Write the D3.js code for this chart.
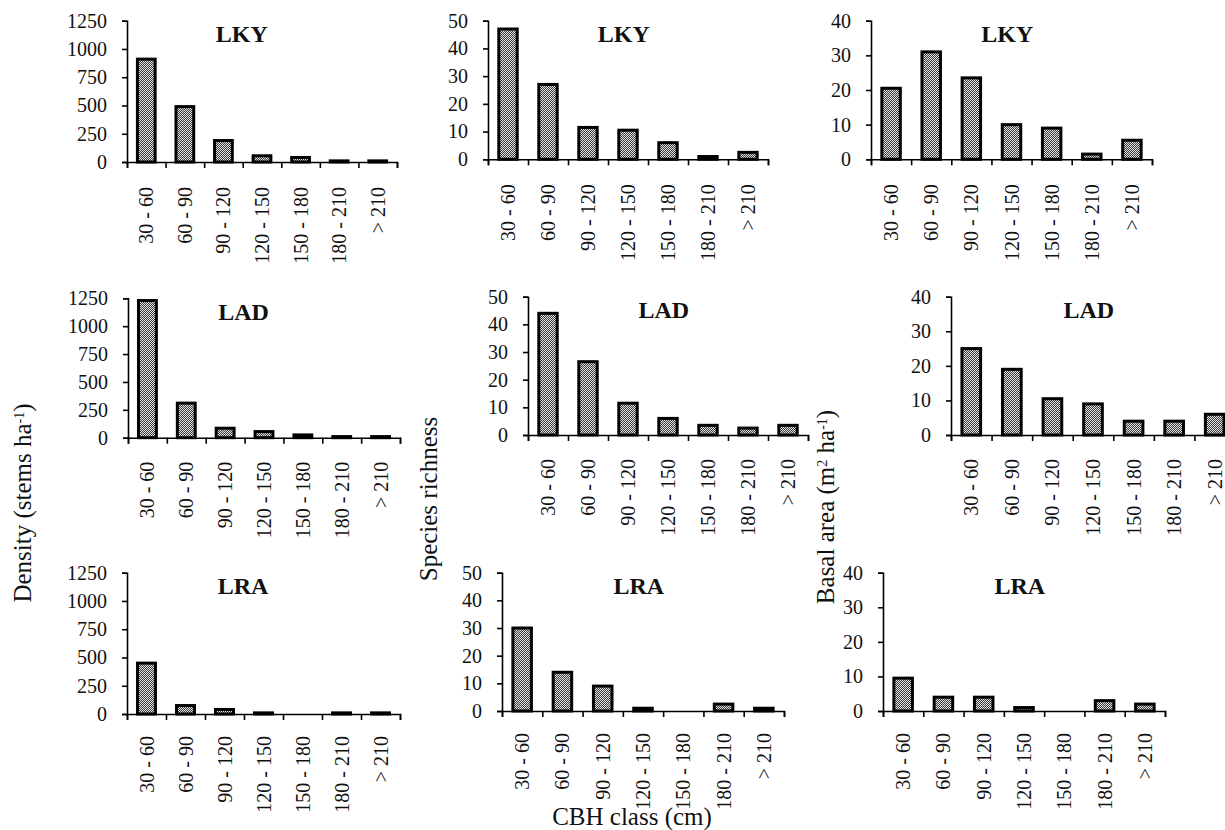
<!DOCTYPE html>
<html>
<head>
<meta charset="utf-8">
<script src="https://cdn.jsdelivr.net/npm/d3@7"></script>
<style>
  body { margin: 0; background: #fff; }
  svg { display: block; }
  text { font-family: "Liberation Serif", "Times New Roman", serif; fill: #111; }
</style>
</head>
<body>
<svg id="chart" width="1225" height="830"></svg>
<script>
'use strict';

// CBH classes on the x axis
const categories = ['30 - 60', '60 - 90', '90 - 120', '120 - 150', '150 - 180', '180 - 210', '> 210'];
const sites = ['LKY', 'LAD', 'LRA'];

// y tick labels per measure
const densityTicks = [0, 250, 500, 750, 1000, 1250];
const richnessTicks = [0, 10, 20, 30, 40, 50];
const basalTicks = [0, 10, 20, 30, 40];

// Density (stems ha-1)
const densityLKY = [910, 490, 190, 55, 40, 10, 10];
const densityLAD = [1230, 310, 85, 55, 25, 10, 10];
const densityLRA = [450, 75, 40, 10, 0, 10, 10];

// Species richness
const richnessLKY = [47, 27, 11.5, 10.5, 6, 1, 2.5];
const richnessLAD = [44, 26.5, 11.5, 6, 3.5, 2.5, 3.5];
const richnessLRA = [30, 14, 9, 1, 0, 2.5, 1];

// Basal area (m2 ha-1)
const basalLKY = [20.5, 31, 23.5, 10, 9, 1.5, 5.5];
const basalLAD = [25, 19, 10.5, 9, 4, 4, 6];
const basalLRA = [9.5, 4, 4, 1, 0, 3, 2];

const columns = [
    { ticks: densityTicks, series: [densityLKY, densityLAD, densityLRA], titleAt: 0.425 },
    { ticks: richnessTicks, series: [richnessLKY, richnessLAD, richnessLRA], titleAt: 0.485 },
    { ticks: basalTicks, series: [basalLKY, basalLAD, basalLRA], titleAt: 0.485 }
];

/**
 * Plot boxes, row by row: [left, right, top, bottom]
 */
const boxes = [
    [[127, 397, 20.7, 162], [488, 768, 20.7, 159.3], [871, 1152, 20.7, 159.3]],
    [[128, 400, 298.3, 437.7], [528, 808, 296.7, 435], [951, 1235, 296.7, 435]],
    [[127, 400, 572.7, 714], [502, 784, 572.7, 711], [883, 1165, 572.7, 711]]
];
// gap between x axis and the rotated class labels
const labelGap = [25, 24, 22];

const svg = d3.select('#chart');
svg.append('rect').attr('width', 1225).attr('height', 830).attr('fill', '#fff');

/**
 * Fine checker fill of the bars
 */
const defs = svg.append('defs');
const pattern = defs.append('pattern')
    .attr('id', 'dots')
    .attr('width', 2)
    .attr('height', 2)
    .attr('patternUnits', 'userSpaceOnUse');
pattern.append('rect').attr('width', 2).attr('height', 2).attr('fill', '#3e3e3e');
pattern.append('rect').attr('x', 0).attr('y', 0).attr('width', 1).attr('height', 1).attr('fill', '#e0e0e0');
pattern.append('rect').attr('x', 1).attr('y', 1).attr('width', 1).attr('height', 1).attr('fill', '#e0e0e0');

sites.forEach((site, r) => {
    columns.forEach((col, c) => {
        const [x0, x1, y0, y1] = boxes[r][c];
        const values = col.series[r];

        const x = d3.scaleBand()
            .domain(categories)
            .range([x0, x1])
            .paddingInner(0.54)
            .paddingOuter(0.27);

        // boundaries between classes, for the tick marks
        const xb = d3.scaleLinear().domain([0, categories.length]).range([x0, x1]);

        const y = d3.scaleLinear()
            .domain([0, d3.max(col.ticks)])
            .range([y1, y0]);

        const g = svg.append('g');

        /**
         * Bars
         */
        g.selectAll('rect.bar')
            .data(values)
            .join('rect')
            .attr('class', 'bar')
            .attr('x', (d, i) => x(categories[i]))
            .attr('y', d => y(d))
            .attr('width', x.bandwidth())
            .attr('height', d => y(0) - y(d))
            .attr('fill', 'url(#dots)')
            .attr('stroke', '#000')
            .attr('stroke-width', 3);

        /**
         * Y axis
         */
        const yAxis = g.append('g')
            .attr('transform', `translate(${x0},0)`)
            .call(d3.axisLeft(y)
                .tickValues(col.ticks)
                .tickFormat(d => String(d))
                .tickSize(5)
                .tickSizeOuter(5)
                .tickPadding(15));
        yAxis.selectAll('text')
            .attr('font-size', 20)
            .attr('fill', '#1a1a1a');

        /**
         * X axis: ticks at class boundaries, rotated labels
         */
        g.append('g')
            .attr('transform', `translate(0,${y1})`)
            .call(d3.axisBottom(xb)
                .tickValues(d3.range(categories.length + 1))
                .tickSize(6)
                .tickSizeOuter(6)
                .tickFormat(''));

        g.selectAll('.domain, .tick line')
            .attr('stroke', '#000')
            .attr('stroke-width', 1.6);

        g.selectAll('text.cat')
            .data(categories)
            .join('text')
            .attr('class', 'cat')
            .attr('transform', d => `translate(${x(d) + x.bandwidth() / 2},${y1 + labelGap[r]}) rotate(-90)`)
            .attr('text-anchor', 'end')
            .attr('dy', '0.35em')
            .attr('font-size', 20)
            .text(d => d);

        // site name inside the plot
        g.append('text')
            .attr('x', x0 + (x1 - x0) * col.titleAt)
            .attr('y', y0 + 21.5)
            .attr('text-anchor', 'middle')
            .attr('font-size', 24)
            .attr('font-weight', 'bold')
            .text(site);
    });
});

/**
 * Axis titles
 */
function rotatedTitle(cx, cy, parts) {
    const t = svg.append('text')
        .attr('transform', `translate(${cx},${cy}) rotate(-90)`)
        .attr('text-anchor', 'middle')
        .attr('dy', '0.35em')
        .attr('font-size', 25);
    parts.forEach(p => {
        const s = t.append('tspan').text(p[0]);
        if (p[1]) {
            s.attr('baseline-shift', 'super').attr('font-size', 14);
        }
    });
}

rotatedTitle(22, 503, [['Density (stems ha'], ['-1', true], [')']]);
rotatedTitle(428, 499, [['Species richness']]);
rotatedTitle(825, 507, [['Basal area (m'], ['2', true], [' ha'], ['-1', true], [')']]);

svg.append('text')
    .attr('x', 632)
    .attr('y', 825)
    .attr('text-anchor', 'middle')
    .attr('font-size', 25)
    .text('CBH class (cm)');
</script>
</body>
</html>
